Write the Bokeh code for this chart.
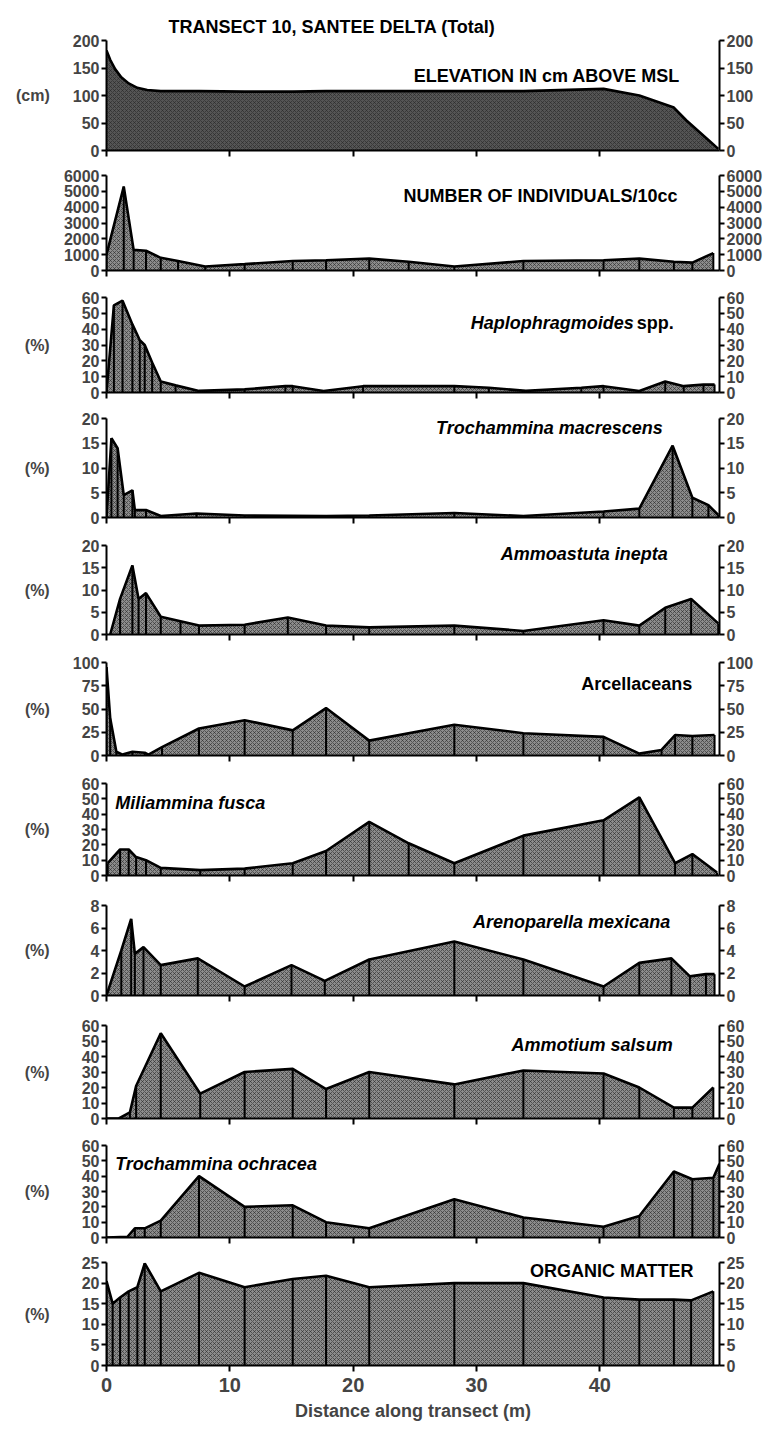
from bokeh.plotting import figure
from bokeh.layouts import column
from bokeh.models import LinearAxis, FixedTicker, Range1d
from bokeh.core.properties import value
from bokeh.embed import file_html
from bokeh.resources import INLINE

FONT = "Liberation Sans"
X_END = 49.7
X_TICKS = [0, 10, 20, 30, 40]

# ---------------- data ----------------
elev_x = [0, 0.3, 0.7, 1.2, 1.8, 2.5, 3.3, 4.4, 7.5, 11.2, 15.1, 17.8, 21.3, 28.2, 33.8, 40.3, 43.2, 46.0, 47.0, 48.0, 49.0, 49.6]
elev_y = [182, 165, 148, 133, 122, 114, 110, 108, 108, 107, 107, 108, 108, 108, 108, 112, 100, 78, 55, 35, 15, 3]

ind_x = [0, 1.4, 2.2, 3.2, 4.4, 5.8, 8.0, 11.2, 15.1, 17.8, 21.3, 24.5, 28.2, 33.8, 40.3, 43.2, 46.0, 47.5, 49.2]
ind_y = [1000, 5300, 1300, 1250, 800, 600, 250, 400, 600, 650, 750, 550, 250, 600, 650, 750, 550, 500, 1100]

hap_x = [0, 0.6, 1.3, 2.1, 2.7, 3.1, 3.7, 4.4, 5.6, 7.5, 11.2, 14.5, 15.1, 17.6, 20.8, 28.2, 31.0, 34.0, 38.5, 40.3, 43.2, 45.3, 46.8, 48.4, 49.3]
hap_y = [0, 55, 58, 43, 33, 30, 19, 7, 4.5, 1, 2, 4, 4, 1, 4, 4, 3, 1, 3, 4, 1, 7, 4, 5, 5]

tmac_x = [0, 0.4, 0.9, 1.4, 2.1, 2.3, 3.2, 4.4, 7.3, 11.2, 17.8, 21.3, 28.2, 33.8, 40.3, 43.2, 45.9, 47.5, 48.8, 49.6]
tmac_y = [0, 16, 14, 4.5, 5.5, 1.5, 1.5, 0.3, 0.8, 0.4, 0.3, 0.4, 0.9, 0.3, 1.2, 1.8, 14.5, 4, 2.5, 0.5]

amas_x = [0.3, 1.1, 2.1, 2.6, 3.2, 4.4, 6.0, 7.5, 11.2, 14.7, 17.8, 21.3, 28.2, 33.8, 40.3, 43.2, 45.3, 47.4, 49.6]
amas_y = [0, 8, 15.5, 8, 9.3, 4, 3, 2, 2.2, 3.8, 2, 1.6, 2, 0.8, 3.2, 2, 6, 8, 2.5]

arc_x = [0, 0.3, 0.8, 1.3, 2.1, 3.1, 3.4, 4.5, 7.5, 11.2, 15.1, 17.8, 21.3, 28.2, 33.8, 40.3, 43.2, 45.0, 46.1, 47.5, 49.3]
arc_y = [95, 40, 4, 1, 4, 3, 1, 9, 29, 38, 27, 51, 16, 33, 24, 20, 2, 6, 22, 21, 22]

mil_x = [0.1, 1.1, 1.8, 2.4, 3.2, 4.4, 7.6, 11.2, 15.1, 17.8, 21.3, 24.5, 28.2, 33.8, 40.3, 43.2, 46.1, 47.5, 49.5]
mil_y = [8, 17, 17, 12, 10, 5, 3.5, 4.5, 8, 16, 35, 21, 8, 26, 36, 51, 8, 14, 2]

are_x = [0, 1.2, 2.0, 2.3, 3.0, 4.4, 7.4, 11.2, 15.0, 17.7, 21.3, 28.2, 33.8, 40.3, 43.2, 45.8, 47.3, 48.6, 49.3]
are_y = [0, 4.0, 6.8, 3.7, 4.3, 2.7, 3.3, 0.8, 2.7, 1.3, 3.2, 4.8, 3.2, 0.8, 2.9, 3.3, 1.7, 1.9, 1.9]

amt_x = [0, 1.0, 1.9, 2.4, 4.4, 7.6, 11.2, 15.1, 17.8, 21.3, 28.2, 33.8, 40.3, 43.2, 46.0, 47.5, 49.2]
amt_y = [0, 0, 4, 21, 55, 16, 30, 32, 19, 30, 22, 31, 29, 20, 7, 7, 20]

toc_x = [0, 1.7, 2.3, 3.1, 4.4, 7.5, 11.2, 15.1, 17.8, 21.3, 28.2, 33.8, 40.3, 43.2, 46.0, 47.5, 49.2, 49.7]
toc_y = [0, 0.5, 6, 6, 11, 40, 20, 21, 10, 6, 25, 13, 7, 14, 43, 38, 39, 48]

org_x = [0, 0.5, 1.1, 1.8, 2.5, 3.1, 4.4, 7.5, 11.2, 15.1, 17.8, 21.3, 28.2, 33.8, 40.3, 43.2, 46.0, 47.4, 49.2]
org_y = [20.5, 15, 16.5, 18, 19, 24.8, 18, 22.5, 19, 21, 21.8, 19, 20, 20, 16.5, 16, 16, 15.8, 18]

# panel: x, y, y max, tick step, unit label, label pieces (text, style, x, y, align, x_offset)
panels = [
    (elev_x, elev_y, 200, 50, "(cm)", [("ELEVATION IN cm ABOVE MSL", "bold", 46.5, 136, "right", 0)]),
    (ind_x, ind_y, 6000, 1000, "", [("NUMBER OF INDIVIDUALS/10cc", "bold", 46.3, 4700, "right", 0)]),
    (hap_x, hap_y, 60, 10, "(%)", [("spp.", "bold", 46.0, 44, "right", 0), ("Haplophragmoides", "bold italic", 46.0, 44, "right", -40)]),
    (tmac_x, tmac_y, 20, 5, "(%)", [("Trochammina macrescens", "bold italic", 45.1, 18, "right", 0)]),
    (amas_x, amas_y, 20, 5, "(%)", [("Ammoastuta inepta", "bold italic", 45.5, 18.2, "right", 0)]),
    (arc_x, arc_y, 100, 25, "(%)", [("Arcellaceans", "bold", 47.5, 77, "right", 0)]),
    (mil_x, mil_y, 60, 10, "(%)", [("Miliammina fusca", "bold italic", 0.7, 47, "left", 0)]),
    (are_x, are_y, 8, 2, "(%)", [("Arenoparella mexicana", "bold italic", 45.7, 6.5, "right", 0)]),
    (amt_x, amt_y, 60, 10, "(%)", [("Ammotium salsum", "bold italic", 45.9, 47.5, "right", 0)]),
    (toc_x, toc_y, 60, 10, "(%)", [("Trochammina ochracea", "bold italic", 0.7, 48, "left", 0)]),
    (org_x, org_y, 25, 5, "(%)", [("ORGANIC MATTER", "bold", 47.6, 23, "right", 0)]),
]

TOPS = [40, 175, 297, 418, 545, 662, 783, 905, 1025, 1145, 1262]
ZEROS = [150, 270, 392, 517, 634, 755, 875, 995, 1118, 1237, 1365]
W, H = 766, 1429
LEFT, RIGHT = 106, 719

figs = []
n = len(panels)
for i, (xs, ys, ymax, step, unit, labels) in enumerate(panels):
    b_top = 0 if i == 0 else ZEROS[i - 1] + 12
    b_bot = H if i == n - 1 else ZEROS[i] + 12
    last = i == n - 1
    p = figure(width=W, height=b_bot - b_top,
               x_range=Range1d(0, X_END), y_range=Range1d(0, ymax),
               output_backend="svg", toolbar_location=None,
               min_border_left=LEFT, min_border_right=W - RIGHT,
               min_border_top=TOPS[i] - b_top, min_border_bottom=b_bot - ZEROS[i],
               title=("TRANSECT 10, SANTEE DELTA (Total)" if i == 0 else None))
    p.outline_line_color = None
    p.xgrid.grid_line_color = None
    p.ygrid.grid_line_color = None
    p.background_fill_color = "white"
    p.border_fill_color = "white"
    if i == 0:
        p.title.text_font = FONT
        p.title.text_font_size = "18px"
        p.title.text_font_style = "bold"
        p.title.text_color = "black"
        p.title.align = "left"
        p.title.offset = 62
        p.title.standoff = 8

    fill_col = "#555555" if i == 0 else "#8c8c8c"
    p.varea(x=xs, y1=[0] * len(xs), y2=ys, fill_color=fill_col,
            hatch_pattern="diagonal_cross", hatch_color="#222222",
            hatch_scale=4, hatch_weight=1, hatch_alpha=0.55)
    if i != 0:
        p.segment(x0=xs, y0=[0] * len(xs), x1=xs, y1=ys, line_color="black", line_width=2)
    p.line(xs, ys, line_color="black", line_width=2.6)

    for (txt, style, tx, ty, align, xo) in labels:
        p.text(x=[tx], y=[ty], text=[txt], text_font=value(FONT), text_font_style=style,
               text_font_size="18px", text_align=align, text_baseline="middle",
               x_offset=xo, text_color="black")

    yt = list(range(0, ymax + 1, step))
    # x axis: labelled ticks only on the last panel, bare tick marks elsewhere
    xa = p.xaxis[0]
    xa.axis_line_width = 2
    xa.major_tick_line_width = 2
    xa.major_tick_in = 0
    xa.major_tick_out = 6
    if last:
        xa.ticker = FixedTicker(ticks=X_TICKS)
        xa.minor_tick_line_color = None
        xa.major_label_text_font = FONT
        xa.major_label_text_font_size = "20px"
        xa.major_label_text_font_style = "bold"
        xa.major_label_standoff = 6
        xa.axis_label = "Distance along transect (m)"
        xa.axis_label_text_font = FONT
        xa.axis_label_text_font_size = "18px"
        xa.axis_label_text_font_style = "bold"
        xa.axis_label_standoff = 6
    else:
        xa.ticker = FixedTicker(ticks=[], minor_ticks=X_TICKS)
        xa.minor_tick_line_color = "black"
        xa.minor_tick_line_width = 2
        xa.minor_tick_in = 0
        xa.minor_tick_out = 6
        xa.major_label_standoff = 0

    ya = p.yaxis[0]
    ra = LinearAxis()
    p.add_layout(ra, "right")
    for ax in (ya, ra):
        ax.ticker = FixedTicker(ticks=yt)
        ax.axis_line_width = 2
        ax.major_tick_line_width = 2
        ax.major_tick_in = 0
        ax.major_tick_out = 5
        ax.minor_tick_line_color = None
        ax.major_label_text_font = FONT
        ax.major_label_text_font_size = "16px"
        ax.major_label_text_font_style = "bold"
        ax.major_label_standoff = 2
    if unit:
        ya.axis_label = unit
        ya.axis_label_text_font = FONT
        ya.axis_label_text_font_size = "16px"
        ya.axis_label_text_font_style = "bold"
        w = len(str(ymax)) * 9.0
        try:
            ya.axis_label_orientation = "horizontal"
        except Exception:
            pass
        ya.axis_label_standoff = int(max(4, 47 - w))
    figs.append(p)

layout = column(*figs, spacing=0)
open("out.html", "w").write(file_html(layout, INLINE))
